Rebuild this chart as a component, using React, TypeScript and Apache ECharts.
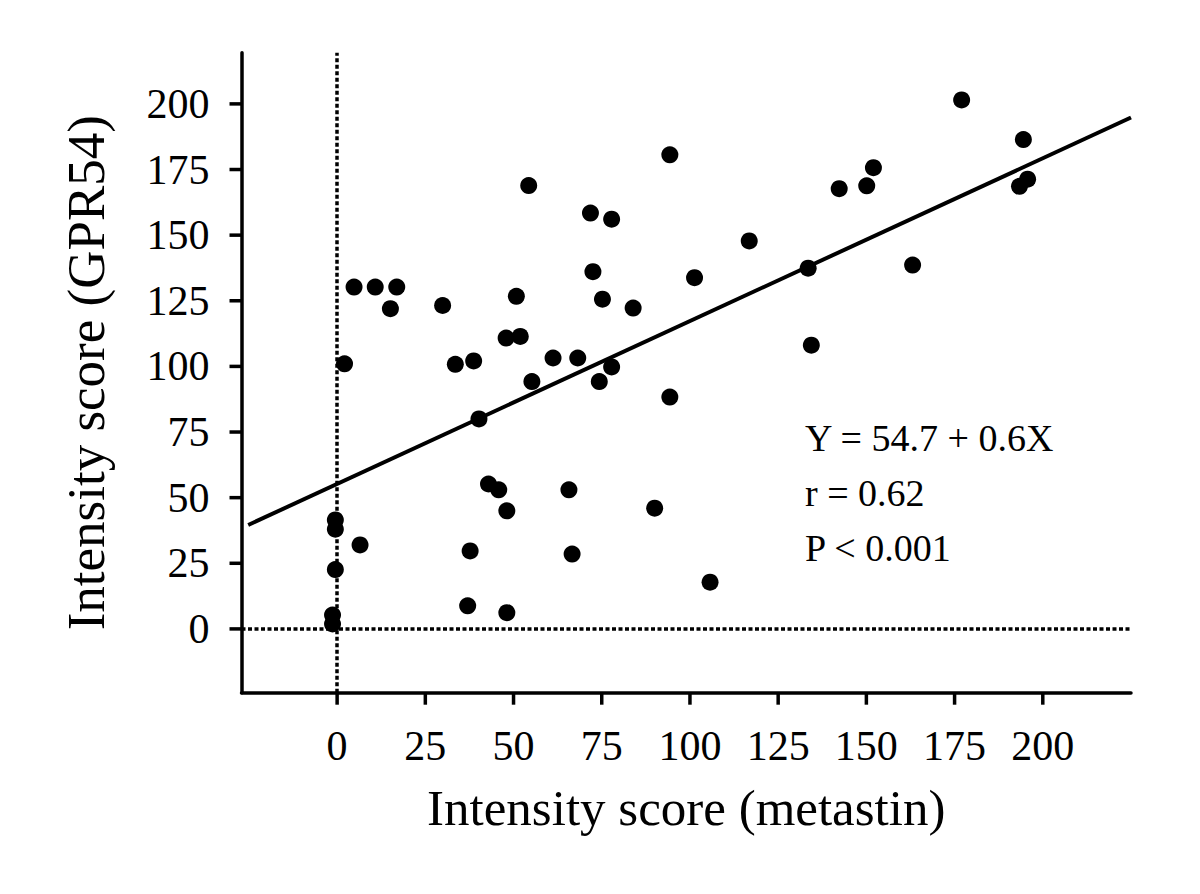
import React, { useEffect, useRef } from "react";
import * as echarts from "echarts";

const metastinScores = [
  54.3, 4.8, 10.8, 16.9, 15.1, 29.9, 50.8, 47.9, 51.9, 2.1, 33.5, 38.7, 55.2, 40.2, 42.9, 45.8, 48.1,
  -0.5, -0.5, 6.5, -0.5, 37.7, -1.3, -1.3, 37.0, 48.1, 94.3, 71.8, 77.8, 116.8, 72.5, 101.3, 133.5,
  75.2, 83.9, 61.2, 68.2, 77.8, 74.3, 134.4, 94.3, 65.7, 90.0, 66.6, 105.7, 177.0, 194.5, 152.0,
  142.3, 150.1, 195.7, 193.4, 163.1,
];
const gpr54Scores = [
  168.9, 130.2, 130.2, 130.2, 122.0, 123.2, 126.7, 110.8, 111.4, 101.0, 100.8, 102.1, 94.2, 80.0,
  55.2, 53.0, 45.0, 41.5, 38.0, 32.0, 22.6, 29.7, 5.3, 1.9, 8.8, 6.2, 180.6, 158.4, 156.1, 147.8,
  136.1, 133.8, 137.4, 125.6, 122.2, 103.2, 103.2, 99.8, 94.2, 108.1, 88.3, 53.0, 46.0, 28.5, 17.8,
  201.5, 186.4, 175.7, 167.7, 168.8, 171.3, 168.6, 138.6,
];
const fitX = [-25.2, 225.0];
const fitY = [39.6, 194.8];
const xRange = [-27.1, 225];
const yRange = [-24.3, 219.5];
const xTicks = [0, 25, 50, 75, 100, 125, 150, 175, 200];
const yTicks = [0, 25, 50, 75, 100, 125, 150, 175, 200];
const statsLines = ["Y = 54.7 + 0.6X", "r = 0.62", "P < 0.001"];
const xTitle = "Intensity score (metastin)";
const yTitle = "Intensity score (GPR54)";

const FONT = "'Liberation Serif', 'Times New Roman', serif";
const TICK_LEN = 12;

export default function App() {
  const ref = useRef<HTMLDivElement>(null);
  useEffect(() => {
    if (!ref.current) return;
    const chart = echarts.init(ref.current, undefined, { renderer: "svg" });
    const points = metastinScores.map((x, i) => [x, gpr54Scores[i]]);
    const fit = fitX.map((x, i) => [x, fitY[i]]);

    const lineStyle = { color: "#000", width: 3.5 };
    const mainAxis = {
      type: "value" as const,
      splitLine: { show: false },
      axisLine: { show: true, onZero: false, lineStyle },
      axisTick: { show: false },
      nameLocation: "middle" as const,
    };
    const labelStyle = { fontFamily: FONT, fontSize: 42, color: "#000", margin: 32 };

    const textGraphics = statsLines.map((t, i) => ({
      id: "stat" + i,
      type: "text",
      left: 805,
      top: 440 + i * 55 - 21,
      style: { text: t, fontFamily: FONT, fontSize: 38, fill: "#000" },
      z: 10,
    }));

    chart.setOption({
      animation: false,
      backgroundColor: "#fff",
      grid: { left: 241.5, right: 69, top: 52.7, bottom: 201.3 },
      xAxis: {
        ...mainAxis,
        min: xRange[0],
        max: xRange[1],
        name: xTitle,
        nameGap: 90,
        nameTextStyle: { fontFamily: FONT, fontSize: 51, color: "#000" },
        axisLabel: { ...labelStyle, customValues: xTicks },
      },
      yAxis: {
        ...mainAxis,
        min: yRange[0],
        max: yRange[1],
        name: yTitle,
        nameGap: 129,
        nameTextStyle: { fontFamily: FONT, fontSize: 53, color: "#000" },
        axisLabel: { ...labelStyle, customValues: yTicks },
      },
      graphic: textGraphics,
      series: [
        {
          type: "line",
          data: fit,
          symbol: "none",
          lineStyle: { color: "#000", width: 4 },
          silent: true,
          z: 2,
        },
        {
          type: "scatter",
          data: points,
          symbol: "circle",
          symbolSize: 17,
          itemStyle: { color: "#000", opacity: 1 },
          clip: false,
          z: 3,
          markLine: {
            silent: true,
            symbol: "none",
            label: { show: false },
            lineStyle: { color: "#000", width: 3.5, type: [4, 2.5], opacity: 1 },
            emphasis: { disabled: true },
            data: [{ xAxis: 0 }, { yAxis: 0 }],
          },
        },
      ],
    });

    const tickGraphics: any[] = [];
    xTicks.forEach((v, i) => {
      const p = chart.convertToPixel({ gridIndex: 0 }, [v, yRange[0]]) as number[];
      tickGraphics.push({
        id: "xt" + i,
        type: "line",
        shape: { x1: p[0], y1: p[1], x2: p[0], y2: p[1] + TICK_LEN },
        style: { stroke: "#000", lineWidth: 3.5 },
        silent: true,
        z: 10,
      });
    });
    yTicks.forEach((v, i) => {
      const p = chart.convertToPixel({ gridIndex: 0 }, [xRange[0], v]) as number[];
      tickGraphics.push({
        id: "yt" + i,
        type: "line",
        shape: { x1: p[0] - TICK_LEN, y1: p[1], x2: p[0], y2: p[1] },
        style: { stroke: "#000", lineWidth: 3.5 },
        silent: true,
        z: 10,
      });
    });
    chart.setOption({ graphic: [...textGraphics, ...tickGraphics] });

    return () => chart.dispose();
  }, []);
  return (
    <div
      ref={ref}
      style={{ position: "fixed", left: 0, top: 0, width: 1200, height: 894, background: "#fff" }}
    />
  );
}
